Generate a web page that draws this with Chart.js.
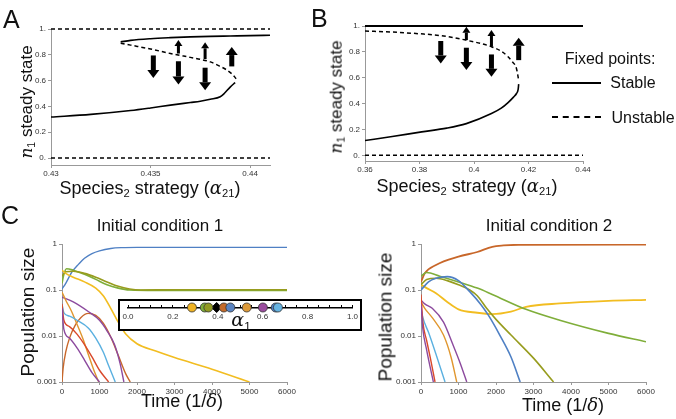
<!DOCTYPE html>
<html lang="en">
<head>
<meta charset="UTF-8">
<script src="https://cdn.jsdelivr.net/npm/chart.js"></script>
<style>
    body { margin: 0; width: 676px; height: 419px; position: relative; background: #fff; overflow: hidden;
           font-family: Arial, "Liberation Sans", sans-serif; color: #111; }
    canvas, .txt, .box, .key { position: absolute; }
    .txt { white-space: nowrap; transform: translate(-50%, -50%); line-height: 1; }
    .rot { transform: translate(-50%, -50%) rotate(-90deg); }
    .m { font-family: "DejaVu Serif", serif; font-style: italic; }
    sub { font-size: 0.62em; vertical-align: -0.3em; }
    .letter { transform: none; font-size: 25px; }
    .box { border: 2px solid #000; box-sizing: border-box; background: #fff; }
    .key { width: 49px; height: 0; }
</style>
</head>
<body>
<canvas id="chartA" width="290" height="200" style="left:0;top:0"></canvas>
<canvas id="chartB" width="300" height="200" style="left:300px;top:0"></canvas>
<canvas id="chartC1" width="340" height="214" style="left:0;top:205px"></canvas>
<canvas id="chartC2" width="336" height="214" style="left:340px;top:205px"></canvas>
<div class="box" style="left:118px;top:299px;width:244px;height:32px"></div>
<canvas id="inset" width="244" height="32" style="left:118px;top:299px"></canvas>

<div class="txt letter" style="left:3px;top:7px">A</div>
<div class="txt letter" style="left:311px;top:6px">B</div>
<div class="txt letter" style="left:1px;top:203px">C</div>

<div class="txt rot" style="left:27px;top:102px;font-size:17px"><span class="m">n</span><sub>1</sub> steady state</div>
<div class="txt rot" style="left:337px;top:97px;font-size:17px"><span class="m">n</span><sub>1</sub> steady state</div>
<div class="txt" style="left:150px;top:189px;font-size:18px">Species<sub>2</sub> strategy (<span class="m">α</span><sub>21</sub>)</div>
<div class="txt" style="left:467px;top:187px;font-size:18px">Species<sub>2</sub> strategy (<span class="m">α</span><sub>21</sub>)</div>

<div class="txt" style="left:610px;top:59px;font-size:16px">Fixed points:</div>
<div class="key" style="left:552px;top:82px;border-top:2px solid #000"></div>
<div class="txt" style="left:633px;top:83px;font-size:16px">Stable</div>
<div class="key" style="left:552px;top:116px;border-top:2px dashed #000"></div>
<div class="txt" style="left:643px;top:118px;font-size:16px">Unstable</div>

<div class="txt" style="left:160px;top:225px;font-size:17px">Initial condition 1</div>
<div class="txt" style="left:549px;top:225px;font-size:17px">Initial condition 2</div>
<div class="txt rot" style="left:27px;top:312px;font-size:19px">Population size</div>
<div class="txt rot" style="left:385px;top:317px;font-size:19px">Population size</div>
<div class="txt" style="left:182px;top:401px;font-size:18px">Time (1/<span class="m">δ</span>)</div>
<div class="txt" style="left:563px;top:405px;font-size:18px">Time (1/<span class="m">δ</span>)</div>
<div class="txt" style="left:241px;top:321px;font-size:19px"><span class="m">α</span><sub>1</sub></div>

<script>
// ---- panel A: bifurcation in alpha21 ----
const aXTicks = [0.43, 0.435, 0.44];
const aYTicks = [0, 0.2, 0.4, 0.6, 0.8, 1];
const aYLabels = ['0.', '0.2', '0.4', '0.6', '0.8', '1.'];
const aEdgeX = [0.43, 0.441];
const aLowX = [0.43, 0.432, 0.434, 0.435, 0.436, 0.437, 0.4375, 0.438, 0.4385, 0.4387, 0.439, 0.43925];
const aLowY = [0.318, 0.338, 0.368, 0.388, 0.41, 0.43, 0.44, 0.455, 0.475, 0.5, 0.55, 0.585];
const aUnstX = [0.4335, 0.434, 0.435, 0.436, 0.437, 0.4375, 0.438, 0.4385, 0.4388, 0.4391, 0.4393];
const aUnstY = [0.89, 0.875, 0.845, 0.81, 0.78, 0.765, 0.745, 0.71, 0.685, 0.65, 0.615];
const aUpX = [0.4335, 0.434, 0.435, 0.436, 0.437, 0.438, 0.439, 0.44, 0.441];
const aUpY = [0.9, 0.912, 0.925, 0.933, 0.939, 0.943, 0.946, 0.949, 0.951];
// arrows: [x, from, to]
const aArrows = [[0.43514, 0.795, 0.62], [0.4364, 0.81, 0.915], [0.4364, 0.75, 0.57],
                 [0.43774, 0.767, 0.897], [0.43774, 0.70, 0.525], [0.43908, 0.71, 0.86]];

// ---- panel B ----
const bXTicks = [0.36, 0.38, 0.4, 0.42, 0.44];
const bEdgeX = [0.36, 0.44];
const bUnstX = [0.36, 0.37, 0.38, 0.388, 0.397, 0.4064, 0.41, 0.4125, 0.414, 0.4156, 0.4164];
const bUnstY = [0.961, 0.953, 0.94, 0.925, 0.891, 0.84, 0.805, 0.762, 0.725, 0.67, 0.58];
const bLowX = [0.36, 0.37, 0.3808, 0.39, 0.3972, 0.4064, 0.41, 0.4125, 0.4145, 0.4156, 0.4162, 0.4164];
const bLowY = [0.114, 0.145, 0.181, 0.21, 0.245, 0.323, 0.365, 0.408, 0.45, 0.478, 0.51, 0.55];
const bArrows = [[0.3878, 0.884, 0.71], [0.3972, 0.891, 0.995], [0.3972, 0.832, 0.659],
                 [0.4064, 0.84, 0.969], [0.4064, 0.78, 0.607], [0.4164, 0.736, 0.91]];

// ---- panel C: population time series ----
const cXTicks = [0, 1000, 2000, 3000, 4000, 5000, 6000];
const cYTicks = [1, 0.1, 0.01, 0.001];

const c1BlueT = [0, 100, 270, 450, 600, 800, 1000, 1300, 1600, 2000, 3000, 6000];
const c1BlueV = [0.105, 0.14, 0.25, 0.37, 0.49, 0.62, 0.71, 0.8, 0.835, 0.845, 0.845, 0.845];
const c1GreenT = [0, 50, 120, 300, 600, 900, 1200, 1500, 1800, 2500, 6000];
const c1GreenV = [0.14, 0.22, 0.29, 0.27, 0.22, 0.17, 0.13, 0.11, 0.1, 0.098, 0.098];
const c1OliveT = [0, 100, 300, 600, 900, 1200, 1500, 1800, 2100, 3000, 6000];
const c1OliveV = [0.2, 0.25, 0.255, 0.23, 0.19, 0.15, 0.12, 0.105, 0.1, 0.101, 0.101];
const c1YellowT = [0, 100, 300, 600, 900, 1100, 1300, 1500, 1700, 2000, 2500, 3000, 4000, 5000];
const c1YellowV = [0.27, 0.23, 0.19, 0.15, 0.11, 0.075, 0.04, 0.02, 0.011, 0.0068, 0.0047, 0.0034, 0.0019, 0.001];
const c1BrownT = [0, 30, 100, 200, 350, 500, 700, 900, 1100, 1300, 1500, 1700, 1820];
const c1BrownV = [0.001, 0.002, 0.0045, 0.009, 0.017, 0.025, 0.031, 0.028, 0.019, 0.0095, 0.0038, 0.0015, 0.001];
const c1PurpleT = [0, 300, 700, 1000, 1200, 1400, 1550, 1650];
const c1PurpleV = [0.07, 0.055, 0.034, 0.022, 0.013, 0.0065, 0.0025, 0.001];
const c1OrangeT = [0, 100, 250, 400, 550, 700, 850, 980];
const c1OrangeV = [0.09, 0.06, 0.035, 0.018, 0.009, 0.004, 0.0018, 0.001];
const c1CyanT = [0, 50, 200, 400, 700, 900, 1100, 1250, 1420];
const c1CyanV = [0.05, 0.032, 0.027, 0.022, 0.015, 0.009, 0.0045, 0.0022, 0.001];
const c1RedT = [0, 50, 200, 400, 600, 800, 1000, 1244];
const c1RedV = [0.05, 0.022, 0.016, 0.011, 0.0065, 0.0035, 0.0018, 0.001];
const c1Purple2T = [0, 50, 200, 400, 600, 800, 1000];
const c1Purple2V = [0.04, 0.014, 0.009, 0.0055, 0.003, 0.0016, 0.001];

const c2BrownT = [0, 100, 400, 1000, 1500, 1900, 2200, 2600, 6000];
const c2BrownV = [0.15, 0.23, 0.35, 0.53, 0.67, 0.87, 0.93, 0.96, 0.97];
const c2BlueT = [0, 200, 400, 700, 1000, 1300, 1600, 1800, 2100, 2400, 2645];
const c2BlueV = [0.1, 0.15, 0.18, 0.195, 0.16, 0.092, 0.048, 0.028, 0.0105, 0.0035, 0.001];
const c2YellowT = [0, 150, 400, 700, 1000, 1500, 1900, 2400, 2800, 3700, 5000, 6000];
const c2YellowV = [0.13, 0.11, 0.085, 0.055, 0.038, 0.032, 0.03, 0.034, 0.043, 0.051, 0.058, 0.061];
const c2GreenT = [0, 150, 500, 1000, 1500, 1900, 2800, 3700, 5000, 6000];
const c2GreenV = [0.2, 0.24, 0.2, 0.15, 0.11, 0.08, 0.038, 0.022, 0.0114, 0.0075];
const c2OliveT = [0, 150, 400, 700, 1000, 1300, 1500, 1750, 2000, 2400, 3000, 3535];
const c2OliveV = [0.13, 0.17, 0.18, 0.16, 0.13, 0.1, 0.075, 0.04, 0.023, 0.0105, 0.0033, 0.001];
const c2PurpleT = [0, 100, 300, 600, 850, 1050, 1220];
const c2PurpleV = [0.06, 0.05, 0.04, 0.02, 0.0065, 0.0025, 0.001];
const c2OrangeT = [0, 100, 300, 600, 800, 953];
const c2OrangeV = [0.055, 0.04, 0.025, 0.0105, 0.0035, 0.001];
const c2CyanT = [0, 50, 200, 400, 641];
const c2CyanV = [0.04, 0.025, 0.012, 0.004, 0.001];
const c2RedT = [0, 50, 150, 250, 374];
const c2RedV = [0.08, 0.02, 0.008, 0.0033, 0.001];
const c2Purple2T = [0, 50, 150, 250, 330];
const c2Purple2V = [0.05, 0.014, 0.005, 0.002, 0.001];

// ---- inset: alpha1 values of the species ----
const insetAlpha = [0.285, 0.342, 0.358, 0.427, 0.456, 0.529, 0.601, 0.658, 0.668];
const insetColors = ['#f0b323', '#7fae3a', '#929a22', '#c36a2a', '#5a84c2', '#dc9a3a', '#9a4c9e', '#4f80c6', '#66b4e2'];
const insetDiamond = [0.395];
const insetTicks = [0, 0.05, 0.1, 0.15, 0.2, 0.25, 0.3, 0.35, 0.4, 0.45, 0.5, 0.55, 0.6, 0.65, 0.7, 0.75, 0.8, 0.85, 0.9, 0.95, 1];

const COL = { blue: '#4f80c4', green: '#7fae3a', olive: '#979c1e', yellow: '#f2bd21', brown: '#c8672a',
              purple: '#8c4a9e', orange: '#e0962e', cyan: '#5ab0e0', red: '#d9482a' };
const tickFont = { family: 'Arial, "Liberation Sans", sans-serif', size: 8 };

function line(xs, ys, color, dash, width) {
    return {
        data: xs.map((x, i) => ({ x: x, y: ys[i] })),
        borderColor: color, borderWidth: width || 1.6, borderDash: dash || [],
        showLine: true, pointRadius: 0, fill: false, cubicInterpolationMode: 'monotone'
    };
}

const arrowPlugin = {
    id: 'arrows',
    afterDatasetsDraw(chart, args, opts) {
        if (!opts.list) return;
        const ctx = chart.ctx, xs = chart.scales.x, ys = chart.scales.y;
        ctx.save();
        ctx.fillStyle = '#000';
        opts.list.forEach(a => {
            const px = xs.getPixelForValue(a[0]);
            const p0 = ys.getPixelForValue(a[1]);
            const p1 = ys.getPixelForValue(a[2]);
            const len = Math.abs(p1 - p0), dir = Math.sign(p1 - p0);
            const w = len < 18 ? 3 : 5;
            const hw = len < 18 ? 4 : 6, hl = len < 18 ? 6 : 8;
            const base = p1 - dir * hl;
            ctx.fillRect(px - w / 2, Math.min(p0, base), w, Math.abs(base - p0));
            ctx.beginPath();
            ctx.moveTo(px - hw, base);
            ctx.lineTo(px + hw, base);
            ctx.lineTo(px, p1);
            ctx.closePath();
            ctx.fill();
        });
        ctx.restore();
    }
};

function fixedTicks(vals) {
    return function(scale) { scale.ticks = vals.map(v => ({ value: v })); };
}

function axes(xOpt, yOpt, yWidth, xHeight) {
    const grid = { drawOnChartArea: false, color: '#999', tickLength: 3 };
    return {
        x: Object.assign({ type: 'linear', grid: grid, border: { color: '#999' },
            afterFit(s) { s.height = xHeight; } }, xOpt),
        y: Object.assign({ type: 'linear', grid: grid, border: { color: '#999' },
            afterFit(s) { s.width = yWidth; } }, yOpt)
    };
}

function tickOpts(list, pad) {
    return { font: tickFont, color: '#333', padding: pad, maxRotation: 0, autoSkip: false,
             callback: (v, i) => list[i] };
}

function baseOptions(padding, scales) {
    return {
        responsive: false, animation: false,
        layout: { padding: padding },
        plugins: { legend: { display: false }, tooltip: { enabled: false } },
        scales: scales
    };
}

// panel A
const optA = baseOptions({ left: 0, top: 29, right: 20, bottom: 15 }, axes(
    { min: 0.43, max: 0.441, afterBuildTicks: fixedTicks(aXTicks), ticks: tickOpts(aXTicks.map(String), 1) },
    { min: -0.054, max: 1, afterBuildTicks: fixedTicks(aYTicks), ticks: tickOpts(aYLabels, 2) },
    51, 20));
optA.plugins.arrows = { list: aArrows };
new Chart(document.getElementById('chartA'), {
    type: 'scatter',
    data: { datasets: [
        Object.assign(line(aEdgeX, [1, 1], '#000', [4, 3], 1.5), { clip: false }),
        line(aEdgeX, [0, 0], '#000', [4, 3], 1.5),
        line(aLowX, aLowY, '#000'),
        line(aUnstX, aUnstY, '#000', [4, 3], 1.5),
        line(aUpX, aUpY, '#000')
    ] },
    options: optA,
    plugins: [arrowPlugin]
});

// panel B
const optB = baseOptions({ left: 0, top: 26, right: 17, bottom: 19 }, axes(
    { min: 0.36, max: 0.44, afterBuildTicks: fixedTicks(bXTicks), ticks: tickOpts(bXTicks.map(String), 1) },
    { min: -0.044, max: 1, afterBuildTicks: fixedTicks(aYTicks), ticks: tickOpts(aYLabels, 2) },
    65, 20));
optB.plugins.arrows = { list: bArrows };
new Chart(document.getElementById('chartB'), {
    type: 'scatter',
    data: { datasets: [
        Object.assign(line(bEdgeX, [1, 1], '#000', [], 1.8), { clip: false }),
        line(bEdgeX, [0, 0], '#000', [4, 3], 1.5),
        line(bLowX, bLowY, '#000'),
        line(bUnstX, bUnstY, '#000', [4, 3], 1.5)
    ] },
    options: optB,
    plugins: [arrowPlugin]
});

function timeAxes(yWidth) {
    return axes(
        { min: 0, max: 6000, afterBuildTicks: fixedTicks(cXTicks), ticks: tickOpts(cXTicks.map(String), 2) },
        { type: 'logarithmic', min: 0.001, max: 1, afterBuildTicks: fixedTicks(cYTicks),
          ticks: tickOpts(cYTicks.map(String), 2) },
        yWidth, 20);
}

// panel C, initial condition 1
new Chart(document.getElementById('chartC1'), {
    type: 'scatter',
    data: { datasets: [
        line(c1Purple2T, c1Purple2V, COL.purple, [], 1.4),
        line(c1RedT, c1RedV, COL.red, [], 1.4),
        line(c1CyanT, c1CyanV, COL.cyan, [], 1.4),
        line(c1OrangeT, c1OrangeV, COL.orange, [], 1.4),
        line(c1PurpleT, c1PurpleV, COL.purple, [], 1.4),
        line(c1BrownT, c1BrownV, COL.brown, [], 1.4),
        line(c1YellowT, c1YellowV, COL.yellow, [], 1.6),
        line(c1OliveT, c1OliveV, COL.olive, [], 1.6),
        line(c1GreenT, c1GreenV, COL.green, [], 1.6),
        line(c1BlueT, c1BlueV, COL.blue, [], 1.4)
    ] },
    options: baseOptions({ left: 0, top: 39, right: 53, bottom: 17 }, timeAxes(62))
});

// panel C, initial condition 2
new Chart(document.getElementById('chartC2'), {
    type: 'scatter',
    data: { datasets: [
        line(c2Purple2T, c2Purple2V, COL.purple, [], 1.4),
        line(c2RedT, c2RedV, COL.red, [], 1.4),
        line(c2CyanT, c2CyanV, COL.cyan, [], 1.4),
        line(c2OrangeT, c2OrangeV, COL.orange, [], 1.4),
        line(c2PurpleT, c2PurpleV, COL.purple, [], 1.4),
        line(c2BlueT, c2BlueV, COL.blue, [], 1.6),
        line(c2GreenT, c2GreenV, COL.green, [], 1.6),
        line(c2OliveT, c2OliveV, COL.olive, [], 1.6),
        line(c2YellowT, c2YellowV, COL.yellow, [], 1.8),
        line(c2BrownT, c2BrownV, COL.brown, [], 1.8)
    ] },
    options: baseOptions({ left: 0, top: 39, right: 30, bottom: 17 }, timeAxes(81))
});

// inset: alpha1 axis with species markers
new Chart(document.getElementById('inset'), {
    type: 'scatter',
    data: { datasets: [
        { data: insetAlpha.map(a => ({ x: a, y: 0 })), pointRadius: 4.5, pointBackgroundColor: insetColors,
          pointBorderColor: '#333', pointBorderWidth: 0.8, clip: false },
        { data: insetDiamond.map(a => ({ x: a, y: 0 })), pointStyle: 'rectRot', pointRadius: 5,
          pointBackgroundColor: '#000', pointBorderColor: '#000', clip: false }
    ] },
    options: {
        responsive: false, animation: false,
        layout: { padding: { left: 10, top: 5, right: 6, bottom: 4 } },
        plugins: { legend: { display: false }, tooltip: { enabled: false } },
        scales: {
            x: { type: 'linear', min: 0, max: 1, afterBuildTicks: fixedTicks(insetTicks),
                 grid: { drawOnChartArea: true, drawTicks: false, color: '#000', lineWidth: 1 },
                 border: { color: '#000', width: 1.5 },
                 ticks: { font: tickFont, color: '#333', padding: 4, maxRotation: 0, autoSkip: false,
                          callback: (v, i) => (i % 4 === 0 ? insetTicks[i].toFixed(1) : '') },
                 afterFit(s) { s.height = 19.5; } },
            y: { display: false, min: 0, max: 1 }
        }
    }
});
</script>
</body>
</html>
